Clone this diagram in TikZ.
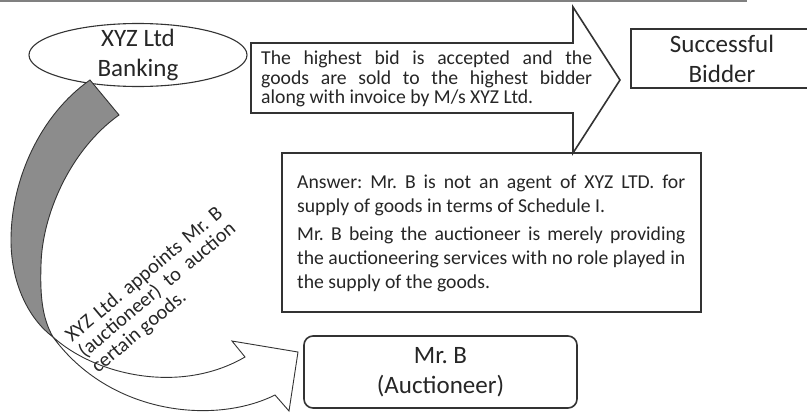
\documentclass[tikz,border=0pt]{standalone}
\usepackage{fontspec}
\setmainfont{Carlito}
\usetikzlibrary{shapes.geometric}
\frenchspacing
\tikzset{
  txt/.style={font=\fontsize{19.7}{24.5}\selectfont\frenchspacing, text=black!85, inner sep=0pt, anchor=base west},
  rtxt/.style={font=\fontsize{20.3}{24}\selectfont\frenchspacing, text=black!85, inner sep=0pt, anchor=base west, rotate=40},
  headtxt/.style={font=\fontsize{25}{30}\selectfont, text=black!85, align=center, inner sep=0pt},
  boxline/.style={draw=black!80, line width=1.8pt},
  thinline/.style={draw=black!80, line width=1.1pt},
}
\begin{document}
\begin{tikzpicture}[x=1pt,y=-1pt]
\useasboundingbox (0,0) rectangle (807,413);
\clip (0,0) rectangle (807,413);
\fill[white] (0,0) rectangle (807,413);
% top rule
\draw[gray, line width=2pt] (0,0.8) -- (747,0.8);

% ellipse
\node[ellipse, thinline, minimum width=218pt, minimum height=63pt, inner sep=0pt] (bank) at (138,55) {};
\node[headtxt] (banktext) at (bank.center) {XYZ Ltd\\Banking};

% curved arrow: grey front band
\filldraw[fill=black!45, thinline, line width=0.9pt]
  (90,80) .. controls (40,115) and (11,180) .. (11,240)
  .. controls (11,285) and (30,320) .. (53,337)
  .. controls (42,318) and (40,295) .. (41,265)
  .. controls (42,215) and (70,150) .. (119,115) -- cycle;
% curved arrow: white back band with head
\filldraw[fill=white, thinline, line width=0.9pt]
  (53,337) .. controls (95,375) and (180,395) .. (245,357)
  -- (232,341) -- (298,352) -- (289,411) -- (275,395)
  .. controls (215,425) and (110,415) .. (53,337) -- cycle;

% rotated label
\node[rtxt] (r1) at (72,343) {\makebox[198pt][s]{XYZ Ltd. appoints Mr. B}};
\node[rtxt] (r2) at (85,358.5) {\makebox[198pt][s]{(auctioneer) to auction}};
\node[rtxt] (r3) at (98,374) {certain goods.};

% big block arrow
\draw[draw=black!80, line width=1.6pt, fill=white]
  (251,43) -- (573,43) -- (573,7) -- (620,80) -- (573,153) -- (573,113) -- (251,113) -- cycle;
\node[txt] (bid1) at (261,64) {\makebox[331pt][s]{The highest bid is accepted and the}};
\node[txt] (bid2) at (261,84) {\makebox[331pt][s]{goods are sold to the highest bidder}};
\node[txt] (bid3) at (261,103) {along with invoice by M/s XYZ Ltd.};

% successful bidder
\node[rectangle, boxline, minimum width=182pt, minimum height=59pt, inner sep=0pt] (succ) at (722,58.5) {};
\node[headtxt] (succtext) at (succ.center) {Successful\\Bidder};

% answer box
\node[rectangle, boxline, minimum width=419pt, minimum height=159pt, inner sep=0pt] (ans) at (491.5,232.5) {};
\node[txt] (a1) at (297,188) {\makebox[388pt][s]{Answer: Mr. B is not an agent of XYZ LTD. for}};
\node[txt] (a2) at (297,212.5) {supply of goods in terms of Schedule I.};
\node[txt] (a3) at (297,240) {\makebox[388pt][s]{Mr. B being the auctioneer is merely providing}};
\node[txt] (a4) at (297,264) {\makebox[388pt][s]{the auctioneering services with no role played in}};
\node[txt] (a5) at (297,288.5) {the supply of the goods.};

% Mr. B box
\node[rectangle, rounded corners=9pt, boxline, line width=1.6pt, minimum width=273pt, minimum height=72pt, inner sep=0pt] (mrb) at (440.5,372) {};
\node[headtxt] (mrbtext) at (mrb.center) {Mr. B\\(Auctioneer)};
\end{tikzpicture}
\end{document}
